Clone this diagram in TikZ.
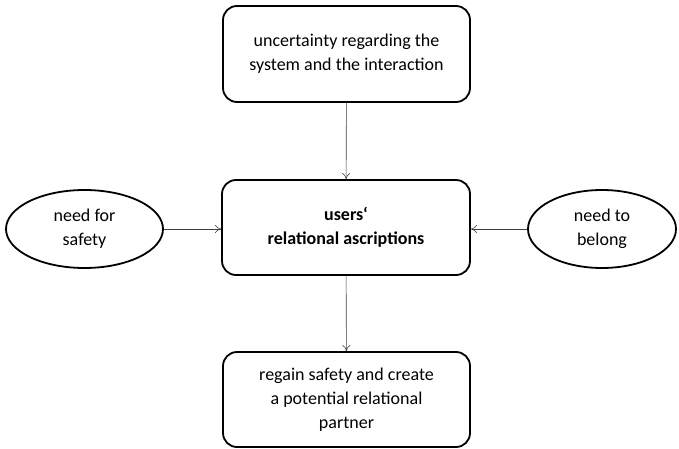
\documentclass[tikz,border=0pt]{standalone}
\usepackage{fontspec}
\setmainfont{Carlito}
\usetikzlibrary{arrows.meta,shapes.geometric}
\begin{document}
\begin{tikzpicture}[x=1pt,y=-1pt,
  box/.style={draw=black,line width=1.8pt,rounded corners=14pt,align=center,font=\fontsize{18}{24}\selectfont,inner sep=0pt},
  oval/.style={draw=black,line width=1.8pt,ellipse,align=center,font=\fontsize{18}{24}\selectfont,inner sep=0pt},
  conn/.style={draw=black!75,line width=0.6pt,-{To[length=6pt,width=8pt]}}]
\useasboundingbox (0,0) rectangle (679,449);
\node[box,minimum width=247pt,minimum height=96pt] (top) at (346.5,54) {uncertainty regarding the\\system and the interaction};
\node[box,minimum width=248pt,minimum height=95pt] (mid) at (346,227.5) {\textbf{users‘}\\\textbf{relational ascriptions}};
\node[box,minimum width=247pt,minimum height=95pt] (bot) at (346.5,399.5) {regain safety and create\\a potential relational\\partner};
\node[oval,minimum width=157pt,minimum height=78pt] (l) at (84.5,229) {need for\\safety};
\node[oval,minimum width=148pt,minimum height=78pt] (r) at (602,229) {need to\\belong};
\draw[conn] (top) -- (mid);
\draw[conn] (mid) -- (bot);
\draw[conn] (l) -- (mid.west |- l.east);
\draw[conn] (r) -- (mid.east |- r.west);
\end{tikzpicture}
\end{document}
